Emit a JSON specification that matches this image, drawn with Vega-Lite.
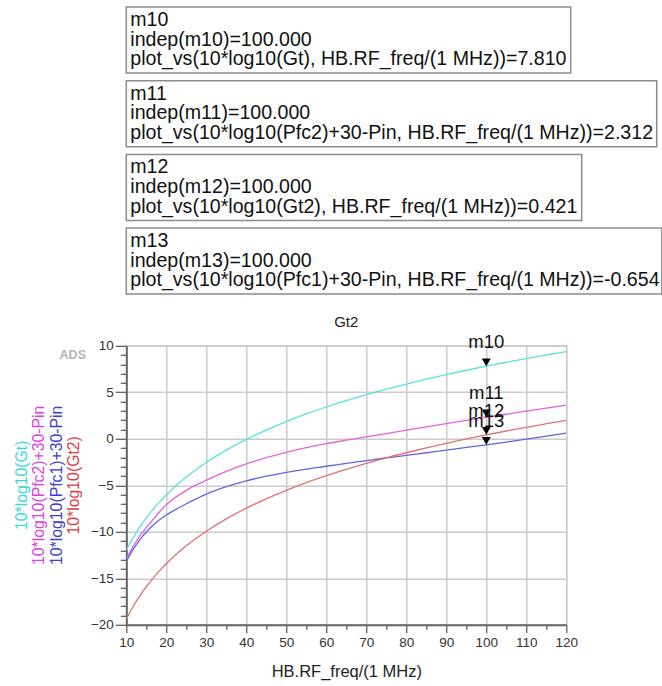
{
  "$schema": "https://vega.github.io/schema/vega-lite/v6.json",
  "padding": {"left": 5, "top": 6, "right": 0, "bottom": 2},
  "background": "white",
  "config": {"font": "Liberation Sans", "view": {"stroke": null}},
  "datasets": {
    "curves": [
      {"f": 10, "Gt": -12.00, "Pfc2": -12.9, "Pfc1": -13.2, "Gt2": -19.39},
      {"f": 11, "Gt": -11.18, "Pfc2": -12.1, "Pfc1": -12.4, "Gt2": -18.57},
      {"f": 12, "Gt": -10.43, "Pfc2": -11.35, "Pfc1": -11.7, "Gt2": -17.82},
      {"f": 13, "Gt": -9.74, "Pfc2": -10.7, "Pfc1": -11.08, "Gt2": -17.13},
      {"f": 14, "Gt": -9.11, "Pfc2": -10.1, "Pfc1": -10.52, "Gt2": -16.50},
      {"f": 15, "Gt": -8.51, "Pfc2": -9.55, "Pfc1": -10.02, "Gt2": -15.90},
      {"f": 16, "Gt": -7.96, "Pfc2": -9.05, "Pfc1": -9.57, "Gt2": -15.35},
      {"f": 18, "Gt": -6.94, "Pfc2": -8.0, "Pfc1": -8.82, "Gt2": -14.33},
      {"f": 20, "Gt": -6.04, "Pfc2": -7.1, "Pfc1": -8.2, "Gt2": -13.43},
      {"f": 22, "Gt": -5.22, "Pfc2": -6.4, "Pfc1": -7.68, "Gt2": -12.61},
      {"f": 25, "Gt": -4.12, "Pfc2": -5.55, "Pfc1": -6.98, "Gt2": -11.51},
      {"f": 28, "Gt": -3.14, "Pfc2": -4.85, "Pfc1": -6.35, "Gt2": -10.53},
      {"f": 30, "Gt": -2.55, "Pfc2": -4.45, "Pfc1": -5.95, "Gt2": -9.94},
      {"f": 35, "Gt": -1.22, "Pfc2": -3.5, "Pfc1": -5.15, "Gt2": -8.61},
      {"f": 40, "Gt": -0.07, "Pfc2": -2.7, "Pfc1": -4.52, "Gt2": -7.46},
      {"f": 45, "Gt": 0.94, "Pfc2": -2.03, "Pfc1": -4.02, "Gt2": -6.45},
      {"f": 50, "Gt": 1.85, "Pfc2": -1.45, "Pfc1": -3.6, "Gt2": -5.54},
      {"f": 55, "Gt": 2.67, "Pfc2": -0.95, "Pfc1": -3.25, "Gt2": -4.72},
      {"f": 60, "Gt": 3.42, "Pfc2": -0.52, "Pfc1": -2.95, "Gt2": -3.97},
      {"f": 65, "Gt": 4.10, "Pfc2": -0.15, "Pfc1": -2.64, "Gt2": -3.29},
      {"f": 70, "Gt": 4.74, "Pfc2": 0.2, "Pfc1": -2.34, "Gt2": -2.65},
      {"f": 75, "Gt": 5.34, "Pfc2": 0.56, "Pfc1": -2.06, "Gt2": -2.05},
      {"f": 80, "Gt": 5.89, "Pfc2": 0.93, "Pfc1": -1.79, "Gt2": -1.50},
      {"f": 85, "Gt": 6.41, "Pfc2": 1.29, "Pfc1": -1.5, "Gt2": -0.98},
      {"f": 90, "Gt": 6.90, "Pfc2": 1.64, "Pfc1": -1.21, "Gt2": -0.49},
      {"f": 95, "Gt": 7.37, "Pfc2": 1.98, "Pfc1": -0.93, "Gt2": -0.02},
      {"f": 100, "Gt": 7.81, "Pfc2": 2.312, "Pfc1": -0.654, "Gt2": 0.421},
      {"f": 105, "Gt": 8.23, "Pfc2": 2.64, "Pfc1": -0.35, "Gt2": 0.84},
      {"f": 110, "Gt": 8.63, "Pfc2": 2.97, "Pfc1": -0.04, "Gt2": 1.24},
      {"f": 115, "Gt": 9.01, "Pfc2": 3.3, "Pfc1": 0.29, "Gt2": 1.62},
      {"f": 120, "Gt": 9.38, "Pfc2": 3.63, "Pfc1": 0.62, "Gt2": 1.99}
    ],
    "markers": [
      {"name": "m10", "f": 100, "value": 7.81},
      {"name": "m11", "f": 100, "value": 2.312},
      {"name": "m12", "f": 100, "value": 0.421},
      {"name": "m13", "f": 100, "value": -0.654}
    ],
    "readouts": [
      {"marker": "m10", "line": 1, "text": "m10"},
      {"marker": "m10", "line": 2, "text": "indep(m10)=100.000"},
      {"marker": "m10", "line": 3, "text": "plot_vs(10*log10(Gt), HB.RF_freq/(1 MHz))=7.810"},
      {"marker": "m11", "line": 1, "text": "m11"},
      {"marker": "m11", "line": 2, "text": "indep(m11)=100.000"},
      {"marker": "m11", "line": 3, "text": "plot_vs(10*log10(Pfc2)+30-Pin, HB.RF_freq/(1 MHz))=2.312"},
      {"marker": "m12", "line": 1, "text": "m12"},
      {"marker": "m12", "line": 2, "text": "indep(m12)=100.000"},
      {"marker": "m12", "line": 3, "text": "plot_vs(10*log10(Gt2), HB.RF_freq/(1 MHz))=0.421"},
      {"marker": "m13", "line": 1, "text": "m13"},
      {"marker": "m13", "line": 2, "text": "indep(m13)=100.000"},
      {"marker": "m13", "line": 3, "text": "plot_vs(10*log10(Pfc1)+30-Pin, HB.RF_freq/(1 MHz))=-0.654"}
    ],
    "series": [
      {"label": "10*log10(Gt)"},
      {"label": "10*log10(Pfc2)+30-Pin"},
      {"label": "10*log10(Pfc1)+30-Pin"},
      {"label": "10*log10(Gt2)"}
    ]
  },
  "columns": 2,
  "bounds": "flush",
  "spacing": {"row": 7.7, "column": 35.3},
  "resolve": {"scale": {"x": "independent", "y": "independent", "color": "independent"}},
  "concat": [
    {"width": 1, "height": 1, "data": {"values": []}, "mark": "point"},
    {
      "width": 444.4, "height": 66,
      "view": {"stroke": "#8c8c8c", "strokeWidth": 1.5},
      "data": {"name": "readouts"},
      "transform": [{"filter": "datum.marker === 'm10'"}],
      "mark": {"type": "text", "align": "left", "baseline": "alphabetic", "dx": 4, "dy": 5.7, "fontSize": 19.6, "color": "#111"},
      "encoding": {
        "x": {"value": 0},
        "y": {"field": "line", "type": "ordinal", "scale": {"type": "point", "padding": 0.68}, "axis": null},
        "text": {"field": "text"}
      }
    },
    {"width": 1, "height": 1, "data": {"values": []}, "mark": "point"},
    {
      "width": 530.4, "height": 66,
      "view": {"stroke": "#8c8c8c", "strokeWidth": 1.5},
      "data": {"name": "readouts"},
      "transform": [{"filter": "datum.marker === 'm11'"}],
      "mark": {"type": "text", "align": "left", "baseline": "alphabetic", "dx": 4, "dy": 5.7, "fontSize": 19.6, "color": "#111"},
      "encoding": {
        "x": {"value": 0},
        "y": {"field": "line", "type": "ordinal", "scale": {"type": "point", "padding": 0.68}, "axis": null},
        "text": {"field": "text"}
      }
    },
    {"width": 1, "height": 1, "data": {"values": []}, "mark": "point"},
    {
      "width": 455.4, "height": 66,
      "view": {"stroke": "#8c8c8c", "strokeWidth": 1.5},
      "data": {"name": "readouts"},
      "transform": [{"filter": "datum.marker === 'm12'"}],
      "mark": {"type": "text", "align": "left", "baseline": "alphabetic", "dx": 4, "dy": 5.7, "fontSize": 19.6, "color": "#111"},
      "encoding": {
        "x": {"value": 0},
        "y": {"field": "line", "type": "ordinal", "scale": {"type": "point", "padding": 0.68}, "axis": null},
        "text": {"field": "text"}
      }
    },
    {"width": 1, "height": 109.9, "data": {"values": []}, "mark": "point"},
    {
      "width": 535.5, "height": 66,
      "view": {"stroke": "#8c8c8c", "strokeWidth": 1.5},
      "data": {"name": "readouts"},
      "transform": [{"filter": "datum.marker === 'm13'"}],
      "mark": {"type": "text", "align": "left", "baseline": "alphabetic", "dx": 4, "dy": 5.7, "fontSize": 19.6, "color": "#111"},
      "encoding": {
        "x": {"value": 0},
        "y": {"field": "line", "type": "ordinal", "scale": {"type": "point", "padding": 0.68}, "axis": null},
        "text": {"field": "text"}
      }
    },
    {
      "width": 86, "height": 279,
      "title": {"text": "ADS", "anchor": "end", "frame": "group", "offset": -16, "dx": -5, "fontSize": 12.5, "fontWeight": "bold", "color": "#b4b4b4"},
      "data": {"name": "series"},
      "mark": {"type": "text", "angle": 270, "align": "center", "baseline": "middle", "fontSize": 15.8},
      "encoding": {
        "x": {"field": "label", "type": "nominal", "scale": {"type": "point", "padding": 1.078, "domain": ["10*log10(Gt)", "10*log10(Pfc2)+30-Pin", "10*log10(Pfc1)+30-Pin", "10*log10(Gt2)"]}, "axis": null},
        "text": {"field": "label"},
        "color": {"field": "label", "type": "nominal", "scale": {"domain": ["10*log10(Gt)", "10*log10(Pfc2)+30-Pin", "10*log10(Pfc1)+30-Pin", "10*log10(Gt2)"], "range": ["#33dcdc", "#e03ee0", "#3c3cd2", "#e03c3c"]}, "legend": null}
      }
    },
    {
      "width": 440, "height": 279,
      "view": {"stroke": "#a8a8a8", "strokeWidth": 1.2},
      "title": {"text": "Gt2", "fontSize": 15, "fontWeight": "normal", "color": "#222", "offset": 3},
      "layer": [
        {
          "data": {"name": "curves"},
          "transform": [{"fold": ["Gt", "Pfc2", "Pfc1", "Gt2"], "as": ["series", "value"]}],
          "mark": {"type": "line", "interpolate": "monotone", "strokeWidth": 1.3, "clip": true},
          "encoding": {
            "x": {"field": "f", "type": "quantitative", "scale": {"domain": [10, 120], "nice": false, "zero": false},
              "axis": {"orient": "bottom", "values": [10, 15, 20, 25, 30, 35, 40, 45, 50, 55, 60, 65, 70, 75, 80, 85, 90, 95, 100, 105, 110, 115, 120], "format": "d",
                "labelExpr": "datum.value % 10 === 0 ? datum.label : ''",
                "title": "HB.RF_freq/(1 MHz)", "titleFontSize": 16.5, "titleFontWeight": "normal", "titleColor": "#222", "titlePadding": 14,
                "labelFontSize": 13.5, "labelColor": "#333", "labelPadding": 3, "labelFlush": false, "labelOverlap": false,
                "tickSize": {"condition": {"test": "datum.value % 10 === 0", "value": 8}, "value": 4.5},
                "tickColor": "#555", "tickWidth": 1.2, "domainColor": "#666", "domainWidth": 2,
                "grid": true, "gridColor": "#cccccc", "gridWidth": 1.5,
                "gridOpacity": {"condition": {"test": "datum.value % 10 === 0", "value": 1}, "value": 0}}},
            "y": {"field": "value", "type": "quantitative", "scale": {"domain": [-20, 10], "nice": false, "zero": false},
              "axis": {"orient": "left", "values": [-20, -19, -18, -17, -16, -15, -14, -13, -12, -11, -10, -9, -8, -7, -6, -5, -4, -3, -2, -1, 0, 1, 2, 3, 4, 5, 6, 7, 8, 9, 10], "format": "d",
                "labelExpr": "datum.value % 5 === 0 ? datum.label : ''",
                "title": null, "labelFontSize": 13.5, "labelColor": "#333", "labelPadding": 2, "labelFlush": false, "labelOverlap": false,
                "tickSize": {"condition": {"test": "datum.value % 5 === 0", "value": 11}, "value": 6},
                "tickColor": "#555", "tickWidth": 1.2, "domainColor": "#666", "domainWidth": 2,
                "grid": true, "gridColor": "#cccccc", "gridWidth": 1.5,
                "gridOpacity": {"condition": {"test": "datum.value % 5 === 0", "value": 1}, "value": 0}}},
            "color": {"field": "series", "type": "nominal", "scale": {"domain": ["Gt", "Pfc2", "Pfc1", "Gt2"], "range": ["#5ce1e1", "#e064e0", "#6464dc", "#e07272"]}, "legend": null}
          }
        },
        {
          "mark": {"type": "rule", "color": "#707070", "strokeWidth": 2},
          "encoding": {"y": {"datum": 10, "axis": {"values": [-20, -19, -18, -17, -16, -15, -14, -13, -12, -11, -10, -9, -8, -7, -6, -5, -4, -3, -2, -1, 0, 1, 2, 3, 4, 5, 6, 7, 8, 9, 10]}}}
        },
        {
          "data": {"name": "markers"},
          "mark": {"type": "point", "shape": "triangle-down", "filled": true, "color": "#000", "opacity": 1, "size": 80, "yOffset": -3.9},
          "encoding": {
            "x": {"field": "f", "type": "quantitative", "axis": {"values": [10, 15, 20, 25, 30, 35, 40, 45, 50, 55, 60, 65, 70, 75, 80, 85, 90, 95, 100, 105, 110, 115, 120]}},
            "y": {"field": "value", "type": "quantitative", "axis": {"values": [-20, -19, -18, -17, -16, -15, -14, -13, -12, -11, -10, -9, -8, -7, -6, -5, -4, -3, -2, -1, 0, 1, 2, 3, 4, 5, 6, 7, 8, 9, 10]}}
          }
        },
        {
          "data": {"name": "markers"},
          "mark": {"type": "text", "align": "center", "baseline": "alphabetic", "dy": -18, "fontSize": 18.5, "color": "#111"},
          "encoding": {
            "x": {"field": "f", "type": "quantitative", "axis": {"values": [10, 15, 20, 25, 30, 35, 40, 45, 50, 55, 60, 65, 70, 75, 80, 85, 90, 95, 100, 105, 110, 115, 120]}},
            "y": {"field": "value", "type": "quantitative", "axis": {"values": [-20, -19, -18, -17, -16, -15, -14, -13, -12, -11, -10, -9, -8, -7, -6, -5, -4, -3, -2, -1, 0, 1, 2, 3, 4, 5, 6, 7, 8, 9, 10]}},
            "text": {"field": "name"}
          }
        }
      ]
    }
  ]
}
